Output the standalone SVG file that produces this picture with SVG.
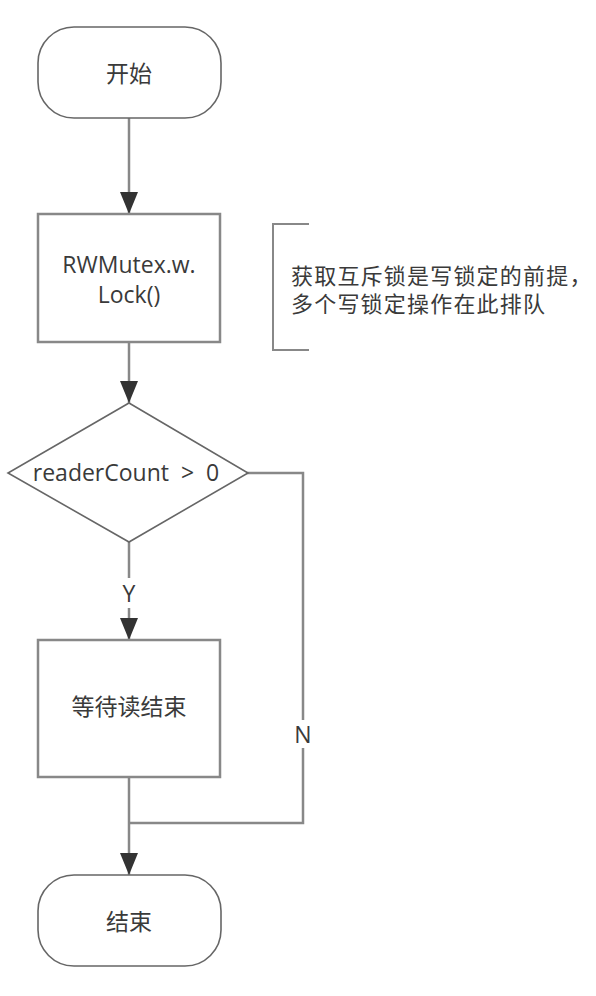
<svg xmlns="http://www.w3.org/2000/svg" width="596" height="996" viewBox="0 0 596 996">
<style>
.term{fill:#fff;stroke:#666;stroke-width:1.6}
.box{fill:#fff;stroke:#888;stroke-width:2.5}
.dia{fill:#fff;stroke:#666;stroke-width:1.6}
.line{fill:none;stroke:#888;stroke-width:2.5}
.t{font-family:"Open Sans","Noto Sans CJK SC",sans-serif;font-size:23px;fill:#3a3a3a;text-anchor:middle}
.tl{font-family:"Open Sans","Noto Sans CJK SC",sans-serif;font-size:22px;letter-spacing:1.2px;fill:#3a3a3a}
</style>
<defs>
<marker id="arr" viewBox="0 0 22 18" refX="22" refY="9" markerWidth="22" markerHeight="18" markerUnits="userSpaceOnUse" orient="auto">
<path d="M0,0 L22,9 L0,18 Z" fill="#333"/>
</marker>
</defs>
<rect width="596" height="996" fill="#fff"/>
<g id="connectors">
<line class="line" x1="129" y1="118" x2="129" y2="214" marker-end="url(#arr)"/>
<line class="line" x1="129" y1="342" x2="129" y2="403" marker-end="url(#arr)"/>
<line class="line" x1="129" y1="542" x2="129" y2="640" marker-end="url(#arr)"/>
<line class="line" x1="129" y1="777" x2="129" y2="875" marker-end="url(#arr)"/>
<polyline class="line" points="247,473 303,473 303,823 129,823"/>
<rect x="117" y="578" width="24" height="30" fill="#fff"/>
<text class="t" x="129" y="602">Y</text>
<rect x="290" y="720" width="26" height="28" fill="#fff"/>
<text class="t" x="303" y="743">N</text>
</g>
<g id="start">
<rect class="term" x="38" y="27" width="183" height="91" rx="36" ry="36"/>
<text class="t" x="129" y="82">开始</text>
</g>
<g id="lock">
<rect class="box" x="38" y="214" width="182" height="128"/>
<text class="t" x="129" y="273">RWMutex.w.</text>
<text class="t" x="129" y="303">Lock()</text>
</g>
<g id="note">
<polyline fill="none" stroke="#888" stroke-width="2" points="309,224 273,224 273,350 309,350"/>
<text class="tl" x="291" y="284">获取互斥锁是写锁定的前提，</text>
<text class="tl" x="291" y="312">多个写锁定操作在此排队</text>
</g>
<g id="cond">
<polygon class="dia" points="129,403 248,473 129,542 8,473"/>
<text class="t" x="126" y="481" xml:space="preserve">readerCount  &gt;  0</text>
</g>
<g id="wait">
<rect class="box" x="38" y="640" width="182" height="137"/>
<text class="t" x="129" y="715">等待读结束</text>
</g>
<g id="end">
<rect class="term" x="38" y="875" width="183" height="91" rx="36" ry="36"/>
<text class="t" x="129" y="930">结束</text>
</g>
</svg>
